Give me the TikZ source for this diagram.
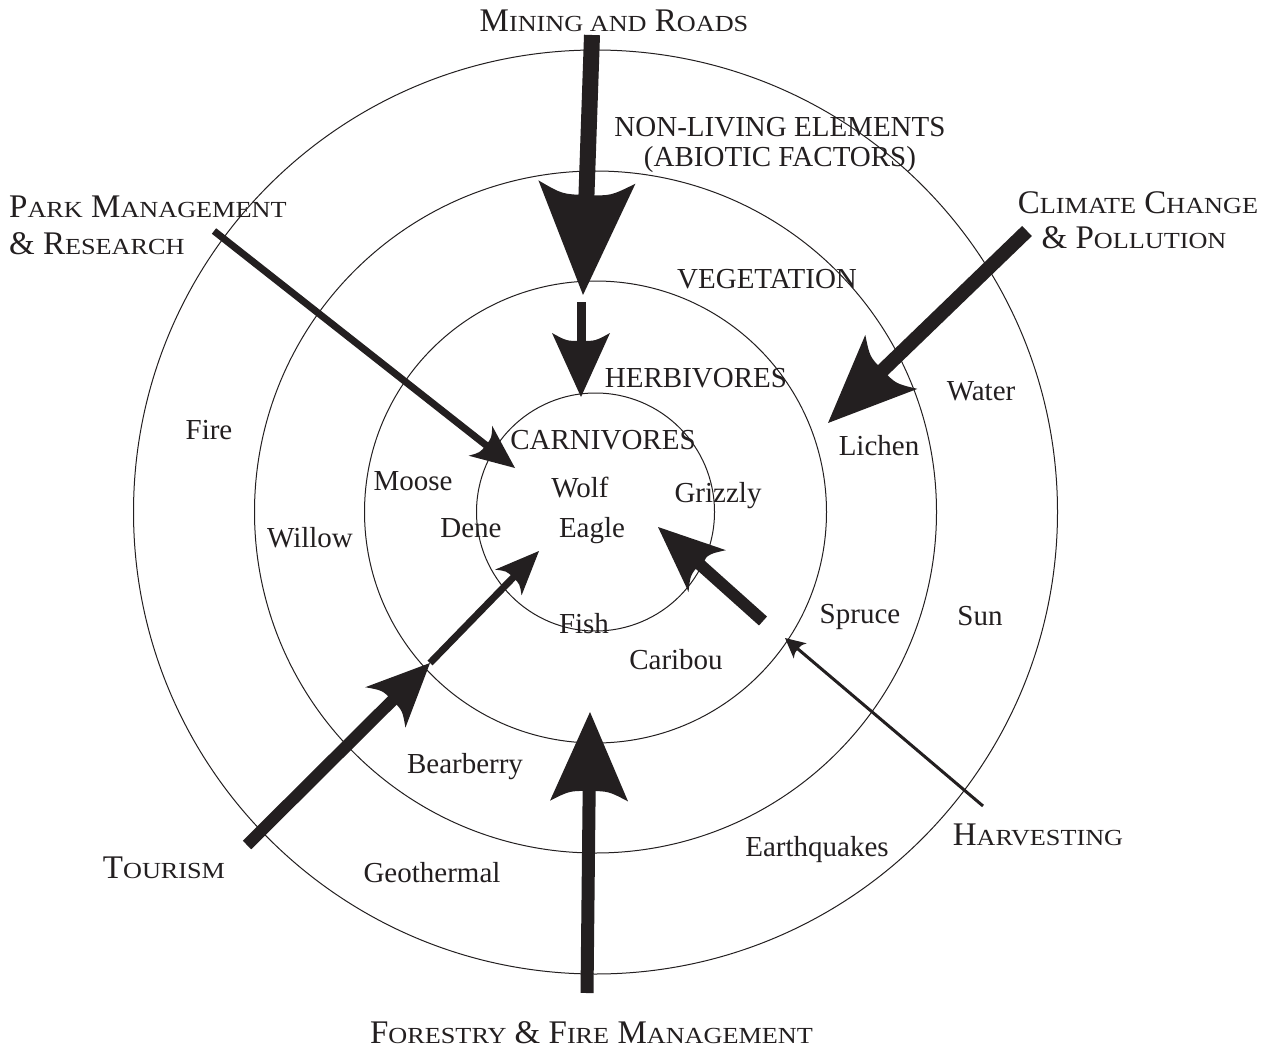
\documentclass[tikz,border=0pt]{standalone}
\usepackage{fontspec}
\setmainfont{Liberation Serif}
\newfontfamily\scfont[FakeStretch=1.14]{Liberation Serif}
\usetikzlibrary{decorations.markings}
\definecolor{ink}{RGB}{35,31,32}
\newcommand\sml[1]{{\scfont\fontsize{23}{23}\selectfont #1}}
\begin{document}
\begin{tikzpicture}[x=1pt, y=-1pt,
  ring/.style={circle, draw=ink, line width=1pt, inner sep=0pt},
  lab/.style={font=\fontsize{29}{33}\selectfont, text=ink, inner sep=0pt, anchor=base},
  sclab/.style={font=\fontsize{33}{36}\selectfont, text=ink, inner sep=0pt, anchor=base},
  shaft/.style={draw=ink, line width=#1},
  tiphead/.style n args={3}{decoration={markings, mark=at position 1 with {\fill[ink] (0,0) -- (-#1,#2) .. controls (-#1+#3,#2/2) .. (-#1+#3,0) .. controls (-#1+#3,-#2/2) .. (-#1,-#2) -- cycle;}}, decorate},
]
\path[fill=white] (0,0) rectangle (1271,1051);
\useasboundingbox (0,0) rectangle (1271,1051);

% rings
\coordinate (ctr) at (595.5,512);
\node[ring, minimum size=924pt] (c4) at (ctr) {};
\node[ring, minimum size=682pt] (c3) at (ctr) {};
\node[ring, minimum size=462pt] (c2) at (ctr) {};
\node[ring, minimum size=238pt] (c1) at (ctr) {};

% ring labels
\node[lab] (nonliving) at (780,137) {NON-LIVING ELEMENTS};
\node[lab] (abiotic) at (780,167) {(ABIOTIC FACTORS)};
\node[lab] (veg) at (767,288) {VEGETATION};
\node[lab] (herb) at (696,387) {HERBIVORES};
\node[lab] (carn) at (603,449) {CARNIVORES};

% items
\node[lab] (wolf) at (580,497) {Wolf};
\node[lab] (eagle) at (592,537) {Eagle};
\node[lab] (grizzly) at (718,502) {Grizzly};
\node[lab] (dene) at (471,537) {Dene};
\node[lab] (fish) at (584,633) {Fish};
\node[lab] (moose) at (413,490) {Moose};
\node[lab] (caribou) at (676,669) {Caribou};
\node[lab] (willow) at (310,547) {Willow};
\node[lab] (lichen) at (879,455) {Lichen};
\node[lab] (spruce) at (860,623) {Spruce};
\node[lab] (bearberry) at (465,773) {Bearberry};
\node[lab] (fire) at (209,439) {Fire};
\node[lab] (water) at (981,400) {Water};
\node[lab] (sun) at (980,625) {Sun};
\node[lab] (geo) at (432,882) {Geothermal};
\node[lab] (quakes) at (817,856) {Earthquakes};

% outside labels
\node[sclab] (mining) at (614,32) {M\sml{INING AND} R\sml{OADS}};
\node[sclab, anchor=base west] (park1) at (9,218) {P\sml{ARK} M\sml{ANAGEMENT}};
\node[sclab, anchor=base west] (park2) at (9,254) {\& R\sml{ESEARCH}};
\node[sclab] (climate1) at (1138,213) {C\sml{LIMATE} C\sml{HANGE}};
\node[sclab] (climate2) at (1134,248) {\& P\sml{OLLUTION}};
\node[sclab] (tourism) at (164,878) {T\sml{OURISM}};
\node[sclab] (harvest) at (1038,845) {H\sml{ARVESTING}};
\node[sclab] (forestry) at (591.5,1043) {F\sml{ORESTRY} \& F\sml{IRE} M\sml{ANAGEMENT}};

% arrow end points
\coordinate (a1s) at (592,35);   \coordinate (a1e) at (583,295);
\coordinate (a2s) at (581,302);  \coordinate (a2e) at (581,397);
\coordinate (a3s) at (214,231);  \coordinate (a3e) at (515,468);
\coordinate (a4s) at (1027,231); \coordinate (a4e) at (828,423);
\coordinate (a5s) at (247,845);  \coordinate (a5m) at (430,663); \coordinate (a5e) at (539,551);
\coordinate (a6s) at (587,993);  \coordinate (a6e) at (590,712);
\coordinate (a7s) at (983,806);  \coordinate (a7e) at (785,638);
\coordinate (a8s) at (763,621);  \coordinate (a8e) at (658,527);

% Mining and roads
\draw[shaft=16pt, shorten >=99pt] (a1s) -- (a1e);
\path[tiphead={113}{48.5}{13}] (a1s) -- (a1e);
\draw[shaft=9pt, shorten >=55pt] (a2s) -- (a2e);
\path[tiphead={64}{29}{8}] (a2s) -- (a2e);
% Park management
\draw[shaft=7pt, shorten >=36pt] (a3s) -- (a3e);
\path[tiphead={44}{19}{7}] (a3s) -- (a3e);
% Climate change
\draw[shaft=14pt, shorten >=75pt] (a4s) -- (a4e);
\path[tiphead={88}{37.5}{12}] (a4s) -- (a4e);
% Tourism
\draw[shaft=12pt, shorten >=52pt] (a5s) -- (a5m);
\path[tiphead={63}{28.5}{10}] (a5s) -- (a5m);
\draw[shaft=7pt, shorten >=36pt] (a5m) -- (a5e);
\path[tiphead={44}{18.5}{7}] (a5m) -- (a5e);
% Forestry
\draw[shaft=13pt, shorten >=78pt] (a6s) -- (a6e);
\path[tiphead={89}{39}{10}] (a6s) -- (a6e);
% Harvesting
\draw[shaft=3pt, shorten >=16pt] (a7s) -- (a7e);
\path[tiphead={20}{10}{3}] (a7s) -- (a7e);
\draw[shaft=12pt, shorten >=55pt] (a8s) -- (a8e);
\path[tiphead={66}{28}{10}] (a8s) -- (a8e);
\end{tikzpicture}
\end{document}
